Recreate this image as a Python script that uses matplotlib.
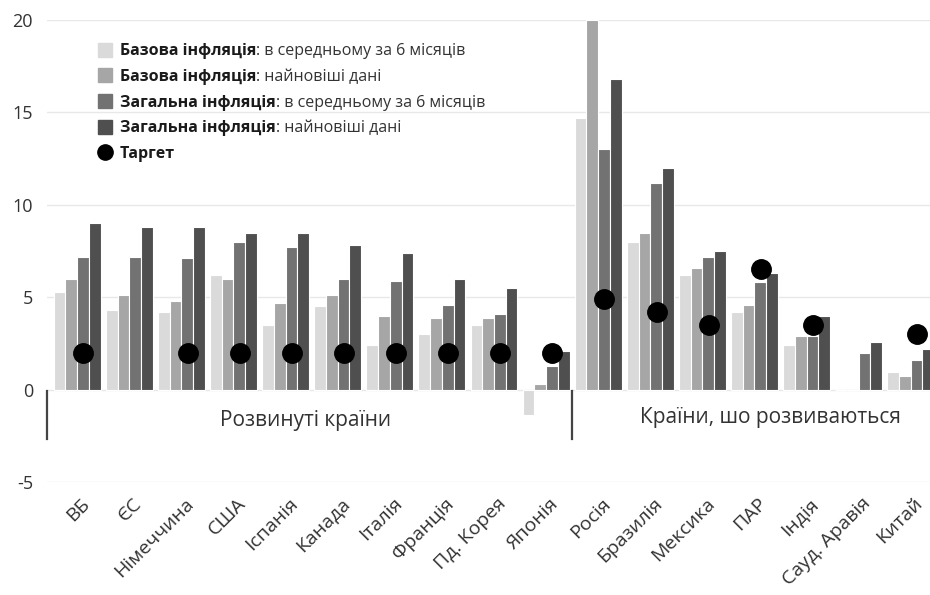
import matplotlib.pyplot as plt
import matplotlib.transforms as mtransforms
from matplotlib.lines import Line2D
import numpy as np

plt.rcParams['font.family'] = ['Open Sans', 'DejaVu Sans']
plt.rcParams['axes.unicode_minus'] = False

countries = ["ВБ", "ЄС", "Німеччина", "США", "Іспанія", "Канада", "Італія", "Франція",
             "Пд. Корея", "Японія", "Росія", "Бразилія", "Мексика", "ПАР", "Індія",
             "Сауд. Аравія", "Китай"]

core_avg6 = [5.3, 4.3, 4.2, 6.2, 3.5, 4.5, 2.4, 3.0, 3.5, -1.4, 14.7, 8.0, 6.2, 4.2, 2.4, 0.0, 0.95]
core_latest = [6.0, 5.1, 4.8, 6.0, 4.7, 5.1, 4.0, 3.9, 3.9, 0.3, 20.0, 8.5, 6.6, 4.6, 2.9, 0.0, 0.75]
head_avg6 = [7.2, 7.2, 7.1, 8.0, 7.7, 6.0, 5.9, 4.6, 4.1, 1.3, 13.0, 11.2, 7.2, 5.8, 2.9, 2.0, 1.6]
head_latest = [9.0, 8.8, 8.8, 8.5, 8.5, 7.8, 7.4, 6.0, 5.5, 2.1, 16.8, 12.0, 7.5, 6.3, 4.0, 2.6, 2.2]
target = [2.0, None, 2.0, 2.0, 2.0, 2.0, 2.0, 2.0, 2.0, 2.0, 4.9, 4.2, 3.5, 6.5, 3.5, None, 3.0]

group_names = ["Розвинуті країни", "Країни, шо розвиваються"]

legend_bold = ["Базова інфляція", "Базова інфляція", "Загальна інфляція", "Загальна інфляція", "Таргет"]
legend_rest = [": в середньому за 6 місяців", ": найновіші дані",
               ": в середньому за 6 місяців", ": найновіші дані", ""]

colors = ['#dadada', '#a6a6a6', '#727272', '#4f4f4f']

fig = plt.figure(figsize=(9.3, 5.95), dpi=100)
ax = fig.add_axes([47 / 930, 1 - 482 / 595, 1 - 47 / 930, (482 - 20) / 595])

x = np.arange(len(countries))
w = 0.225
series = [core_avg6, core_latest, head_avg6, head_latest]
for k, vals in enumerate(series):
    ax.bar(x + (k - 1.5) * w, vals, width=w, color=colors[k], edgecolor='white', linewidth=0.8, zorder=2)

tx = [xi + 0.12 for xi, t in zip(x, target) if t is not None]
ty = [t for t in target if t is not None]
ax.plot(tx, ty, 'o', color='black', markersize=14, zorder=3, clip_on=False)

ax.set_xlim(-0.58, 16.37)
ax.set_ylim(-5, 20)
ax.set_yticks([-5, 0, 5, 10, 15, 20])
ax.grid(axis='y', color='#e8e8e8', linewidth=1, zorder=0)
ax.set_axisbelow(True)
for s in ax.spines.values():
    s.set_visible(False)
ax.tick_params(axis='y', length=0, pad=10, labelsize=13, labelcolor='#333333')
ax.tick_params(axis='x', length=0, pad=9)

ax.set_xticks(x)
ax.set_xticklabels(countries, rotation=45, ha='right', rotation_mode='anchor',
                   fontsize=14, color='#333333')
offset = mtransforms.ScaledTranslation(3 / 100, 0, fig.dpi_scale_trans)
for lab in ax.get_xticklabels():
    lab.set_transform(lab.get_transform() + offset)

# separators and group names
for sx in [-0.58, 9.5]:
    ax.plot([sx, sx], [-0.1, -2.7], color='#444444', linewidth=1.6, clip_on=False, zorder=4)
ax.text(4.38, -1.65, group_names[0], ha='center', va='center', fontsize=15, color='#333333')
ax.text(13.3, -1.5, group_names[1], ha='center', va='center', fontsize=15, color='#333333')

# legend with bold first part
handles = [Line2D([], [], linestyle='none', marker='s', markersize=10, color=c) for c in colors]
handles.append(Line2D([], [], linestyle='none', marker='o', markersize=11, color='black'))
leg = fig.legend(handles, legend_bold, loc='upper left', bbox_to_anchor=(84 / 930, 1 - 29 / 595),
                 frameon=False, handlelength=0.8, handletextpad=0.55, labelspacing=0.6,
                 prop={'size': 11.5, 'weight': 'bold'})
for t in leg.get_texts():
    t.set_color('#1a1a1a')

fig.canvas.draw()
for t, rest in zip(leg.get_texts(), legend_rest):
    if rest:
        bb = t.get_window_extent()
        fig.text(bb.x1, bb.y0, rest, transform=mtransforms.IdentityTransform(),
                 va='bottom', ha='left', fontsize=11.5, color='#333333')

fig.savefig('out.png', dpi=100)
